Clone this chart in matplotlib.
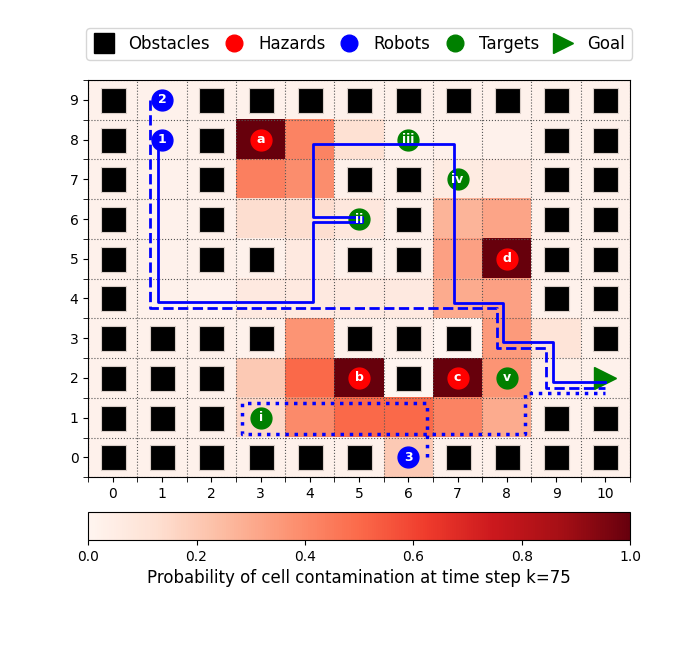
import numpy as np
import matplotlib
matplotlib.use("Agg")
import matplotlib.pyplot as plt
from matplotlib.lines import Line2D

#- grid size
n_cols, n_rows = 11, 10

#- contamination probability per cell, rows listed from y=0 (bottom) to y=9 (top)
prob = np.array([
    [0.02, 0.02, 0.02, 0.02, 0.02, 0.02, 0.20, 0.02, 0.02, 0.02, 0.02],  # y=0
    [0.02, 0.02, 0.02, 0.15, 0.40, 0.50, 0.50, 0.42, 0.30, 0.02, 0.02],  # y=1
    [0.02, 0.02, 0.02, 0.20, 0.50, 1.00, 0.00, 1.00, 0.37, 0.04, 0.02],  # y=2
    [0.02, 0.02, 0.02, 0.02, 0.37, 0.02, 0.02, 0.00, 0.35, 0.10, 0.02],  # y=3
    [0.02, 0.02, 0.02, 0.07, 0.07, 0.07, 0.07, 0.30, 0.33, 0.02, 0.02],  # y=4
    [0.02, 0.02, 0.02, 0.02, 0.07, 0.02, 0.02, 0.33, 1.00, 0.02, 0.02],  # y=5
    [0.02, 0.02, 0.02, 0.13, 0.13, 0.08, 0.02, 0.27, 0.32, 0.02, 0.02],  # y=6
    [0.02, 0.02, 0.02, 0.43, 0.39, 0.02, 0.02, 0.06, 0.07, 0.02, 0.02],  # y=7
    [0.02, 0.02, 0.02, 1.00, 0.42, 0.12, 0.02, 0.02, 0.02, 0.02, 0.02],  # y=8
    [0.02, 0.02, 0.02, 0.02, 0.02, 0.02, 0.02, 0.02, 0.02, 0.02, 0.02],  # y=9
])

#- obstacle columns per row
obstacle_rows = {
    9: [0, 2, 3, 4, 5, 6, 7, 8, 9, 10],
    8: [0, 2, 9, 10],
    7: [0, 2, 5, 6, 9, 10],
    6: [0, 2, 6, 9, 10],
    5: [0, 2, 3, 5, 6, 9, 10],
    4: [0, 9, 10],
    3: [0, 1, 2, 3, 5, 6, 7, 10],
    2: [0, 1, 2, 6],
    1: [0, 1, 2, 9, 10],
    0: [0, 1, 2, 3, 4, 5, 7, 8, 9, 10],
}
obs_x = [c for r, cols in obstacle_rows.items() for c in cols]
obs_y = [r for r, cols in obstacle_rows.items() for c in cols]

hazard_x = [3, 5, 7, 8]
hazard_y = [8, 2, 2, 5]
hazard_lbl = ["a", "b", "c", "d"]

robot_x = [1, 1, 6]
robot_y = [8, 9, 0]
robot_lbl = ["1", "2", "3"]

target_x = [3, 5, 6, 7, 8]
target_y = [1, 6, 8, 7, 2]
target_lbl = ["i", "ii", "iii", "iv", "v"]

goal = (10, 2)

#- robot paths (waypoints, with small offsets so overlapping routes stay visible)
path1_x = [0.92, 0.92, 4.07, 4.07, 5.06, 5.06, 4.07, 4.07, 6.93, 6.93, 7.93, 7.93, 8.94, 8.94, 10.0]
path1_y = [8.0, 3.9, 3.9, 5.92, 5.92, 6.05, 6.05, 7.88, 7.88, 3.88, 3.88, 2.9, 2.9, 1.91, 1.91]
path2_x = [0.76, 0.76, 7.8, 7.8, 8.8, 8.8, 10.0]
path2_y = [9.0, 3.75, 3.75, 2.75, 2.75, 1.75, 1.75]
path3_x = [6.38, 6.38, 2.62, 2.62, 8.37, 8.37, 10.0]
path3_y = [0.0, 1.36, 1.36, 0.6, 0.6, 1.62, 1.62]

fig = plt.figure(figsize=(7, 6.61), dpi=100)
ax = fig.add_axes([0.126, 0.278, 0.774, 0.601])
cax = fig.add_axes([0.126, 0.183, 0.774, 0.042])

im = ax.imshow(prob, cmap="Reds", vmin=0, vmax=1, origin="lower", aspect="auto",
               extent=(-0.5, n_cols - 0.5, -0.5, n_rows - 0.5), zorder=0)

ax.plot(obs_x, obs_y, "s", color="black", markersize=18, mec="#d8ccc6", mew=0.8,
        linestyle="none", zorder=2)
ax.plot(hazard_x, hazard_y, "o", color="red", markersize=15, linestyle="none", zorder=2)
ax.plot(target_x, target_y, "o", color="green", markersize=15, linestyle="none", zorder=2)
ax.plot([goal[0]], [goal[1]], ">", color="green", markersize=16, zorder=2)

ax.plot(path1_x, path1_y, "-", color="blue", lw=2, zorder=3)
ax.plot(path2_x, path2_y, "--", color="blue", lw=2, zorder=3)
ax.plot(path3_x, path3_y, ":", color="blue", lw=2.5, zorder=3)

ax.plot(robot_x, robot_y, "o", color="blue", markersize=15, linestyle="none", zorder=4)

for xs, ys, lbls in [(hazard_x, hazard_y, hazard_lbl), (robot_x, robot_y, robot_lbl),
                     (target_x, target_y, target_lbl)]:
    for x, y, s in zip(xs, ys, lbls):
        ax.text(x, y, s, color="white", fontsize=9, fontweight="bold",
                ha="center", va="center", zorder=5)

ax.set_xlim(-0.5, n_cols - 0.5)
ax.set_ylim(-0.5, n_rows - 0.5)
ax.set_xticks(range(n_cols))
ax.set_yticks(range(n_rows))
ax.set_xticks(np.arange(-0.5, n_cols, 1), minor=True)
ax.set_yticks(np.arange(-0.5, n_rows, 1), minor=True)
ax.tick_params(which="minor", length=3.5)
ax.grid(which="minor", color="#555555", linestyle=":", linewidth=0.8)

handles = [
    Line2D([], [], marker="s", color="black", linestyle="none", markersize=15),
    Line2D([], [], marker="o", color="red", linestyle="none", markersize=12),
    Line2D([], [], marker="o", color="blue", linestyle="none", markersize=12),
    Line2D([], [], marker="o", color="green", linestyle="none", markersize=12),
    Line2D([], [], marker=">", color="green", linestyle="none", markersize=14),
]
ax.legend(handles, ["Obstacles", "Hazards", "Robots", "Targets", "Goal"],
          loc="lower center", bbox_to_anchor=(0.5, 1.03), ncol=5, fontsize=12,
          handlelength=1.3, handletextpad=0.8, columnspacing=0.8)

cb = fig.colorbar(im, cax=cax, orientation="horizontal")
cb.set_ticks([0.0, 0.2, 0.4, 0.6, 0.8, 1.0])
cb.set_label("Probability of cell contamination at time step k=75", fontsize=12)

plt.savefig("out.png", dpi=100)
